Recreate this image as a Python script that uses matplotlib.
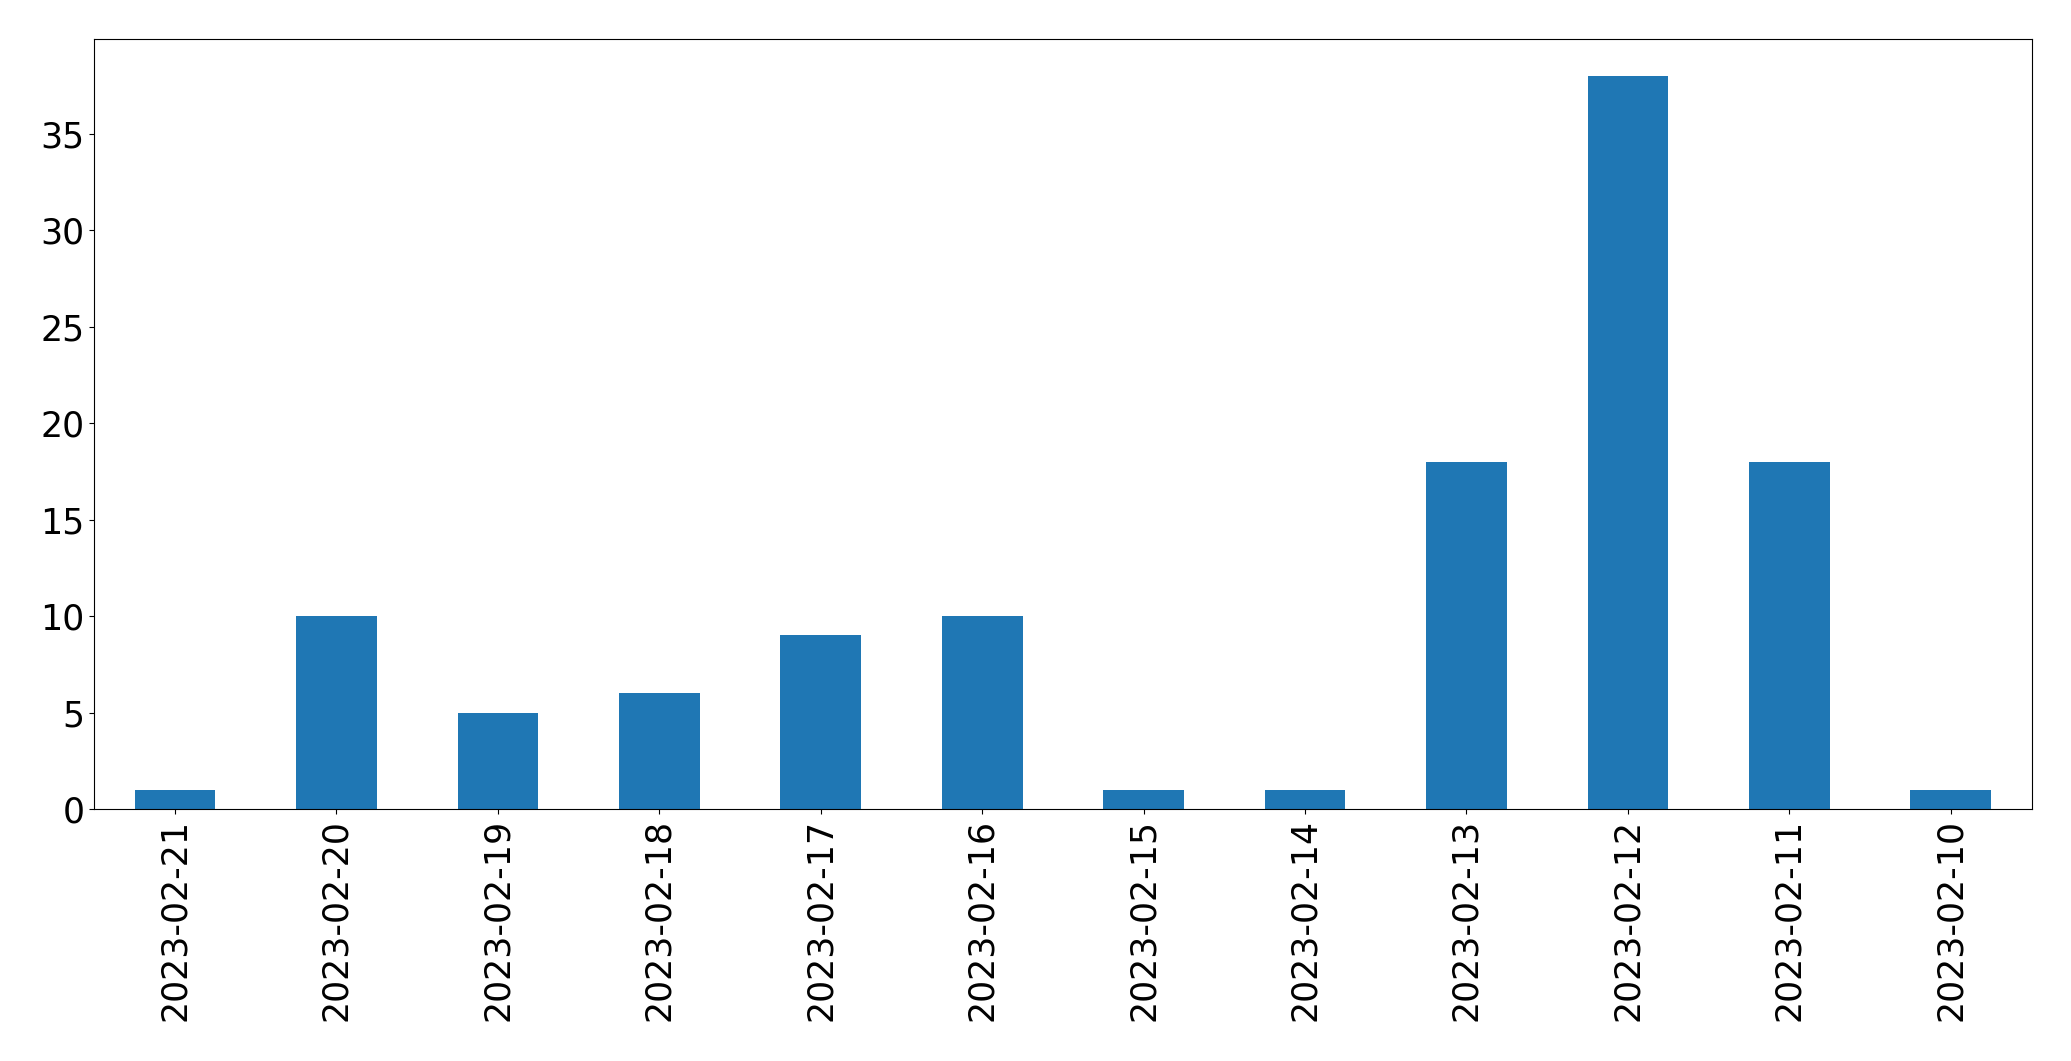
import matplotlib
matplotlib.use('Agg')
from matplotlib import pyplot as plt
import numpy as np

# daily counts, newest first
dates = ['2023-02-21', '2023-02-20', '2023-02-19', '2023-02-18', '2023-02-17',
         '2023-02-16', '2023-02-15', '2023-02-14', '2023-02-13', '2023-02-12',
         '2023-02-11', '2023-02-10']
counts = [1, 10, 5, 6, 9, 10, 1, 1, 18, 38, 18, 1]

fig = plt.figure(figsize=(20.71, 10.61), dpi=100)
ax = fig.add_axes([94.3/2071, 1 - 809/1061, (2031.5-94.3)/2071, (809-39.3)/1061])

x = np.arange(len(dates))
ax.bar(x, counts, width=0.5, color='#1f77b4')
ax.set_xlim(-0.5, len(dates) - 0.5)
ax.set_ylim(0, max(counts) * 1.05)
ax.set_xticks(x)
ax.set_xticklabels(dates, rotation=90)
ax.tick_params(labelsize=25)

plt.savefig('out.png', dpi=100)
